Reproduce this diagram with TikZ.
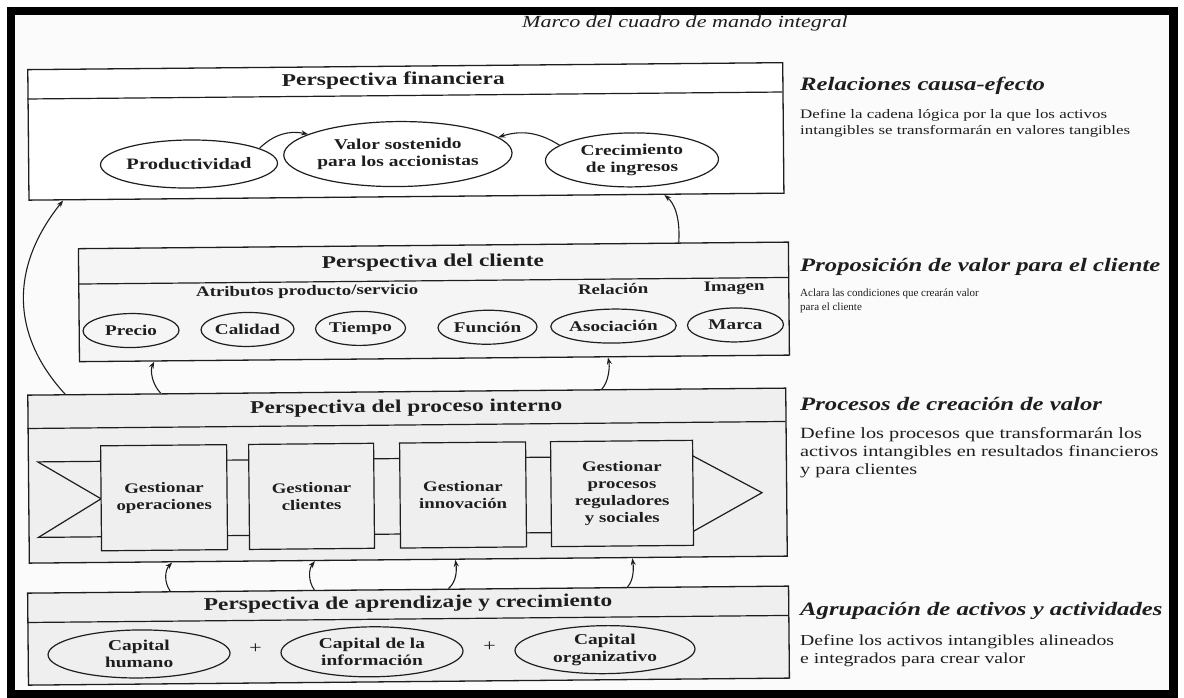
\documentclass[tikz,border=0pt]{standalone}
\usepackage{fontspec}
\setmainfont{Liberation Serif}[FakeStretch=1.3]
\newfontfamily\plainserif{Liberation Serif}
\usetikzlibrary{shapes.geometric,arrows.meta,calc}
\definecolor{ink}{HTML}{1E1E1E}
\definecolor{paper}{HTML}{FBFBFB}
\definecolor{shade}{HTML}{EFEFEF}
\definecolor{shadelt}{HTML}{F5F5F5}
\newcommand\fsz[2]{\fontsize{#1}{#2}\selectfont}

\begin{document}
\begin{tikzpicture}[x=1pt,y=-1pt,
  panel/.style={rectangle,draw=ink,line width=1.3pt,inner sep=0pt,anchor=north west},
  divider/.style={draw=ink,line width=1.2pt},
  hdr/.style={text=ink,font=\bfseries\fsz{18}{20}},
  sublab/.style={text=ink,font=\bfseries\fsz{14.5}{16}},
  oval/.style={ellipse,draw=ink,line width=1.2pt,inner sep=0pt,align=center,text=ink,font=\bfseries\fsz{15}{17}},
  proc/.style={rectangle,draw=ink,line width=1.2pt,fill=shade,inner sep=0pt,align=center,text=ink,font=\bfseries\fsz{14.5}{17}},
  link/.style={draw=ink,line width=1.1pt,-{Stealth[length=7pt,width=5pt]}},
  rhead/.style={anchor=base west,inner sep=0pt,text=ink,font=\bfseries\itshape\fsz{19}{22}},
  rtext/.style={anchor=base west,inner sep=0pt,text=ink},
]
% page, black frame and paper
\useasboundingbox (0,0) rectangle (1184,698);
\fill[white] (0,0) rectangle (1184,698);
\fill[black] (7,7) rectangle (1178,698);
\fill[paper] (15,15) rectangle (1169,690);

\node[font=\itshape\fsz{17}{20},text=ink] (title) at (685,23) {Marco del cuadro de mando integral};

% the four perspectives, slightly tilted as on the printed page
\begin{scope}[rotate around={0.53:(405,380)},transform shape]
  % panels
  \node[panel,fill=white,minimum width=755pt,minimum height=130.5pt] (b1) at (30,65.5) {};
  \node[panel,fill=shadelt,minimum width=710pt,minimum height=113pt] (b2) at (79,245) {};
  \node[panel,fill=shade,minimum width=758pt,minimum height=168pt] (b3) at (27,391) {};
  \node[panel,fill=shade,minimum width=761pt,minimum height=92pt] (b4) at (25,589) {};
  \draw[divider] (30,95.5) -- (785,95.5);
  \draw[divider] (79,281) -- (789,281);
  \draw[divider] (27,425) -- (785,425);
  \draw[divider] (25,619) -- (786,619);

  % headers
  \node[hdr] (h1) at (396,80.5) {Perspectiva financiera};
  \node[hdr] (h2) at (434,263) {Perspectiva del cliente};
  \node[hdr] (h3) at (406,408) {Perspectiva del proceso interno};
  \node[hdr] (h4) at (406,604) {Perspectiva de aprendizaje y crecimiento};

  % financial perspective
  \node[oval,minimum width=149pt,minimum height=48pt,font=\bfseries\fsz{15.8}{17}] (pro) at (191,162) {Productividad};
  \node[oval,minimum width=192pt,minimum height=65pt] (val) at (400,154) {Valor sostenido\\para los accionistas};
  \node[oval,minimum width=173pt,minimum height=54pt] (cre) at (634,162) {Crecimiento\\de ingresos};
  \draw[link] (pro.12) to[bend left=28] (val.167);
  \draw[link] (cre.168) to[bend right=25] (val.9);

  % customer perspective
  \node[sublab] (attr) at (308,291) {Atributos producto/servicio};
  \node[sublab] (rel) at (614,291) {Relación};
  \node[sublab] (img) at (735,291) {Imagen};
  \begin{scope}[every node/.append style={oval,minimum height=34pt,font=\bfseries\fsz{14.8}{16}}]
    \node[minimum width=96pt] (pre) at (131.5,328) {Precio};
    \node[minimum width=93pt] (cal) at (248,328) {Calidad};
    \node[minimum width=90pt] (tie) at (361,328) {Tiempo};
    \node[minimum width=99pt] (fun) at (488,328) {Función};
    \node[minimum width=110pt] (aso) at (614,328) {Asociación};
    \node[minimum width=96pt] (mar) at (736,328) {Marca};
  \end{scope}

  % internal process perspective: value chain
  \draw[divider,line join=miter] (100,458.5) -- (37,458.5) -- (100,496) -- (37,534) -- (100,534);
  \draw[divider] (226,458.5) -- (248,458.5) (226,534) -- (248,534);
  \draw[divider] (373,458.5) -- (399,458.5) (373,534) -- (399,534);
  \draw[divider] (525,458.5) -- (550,458.5) (525,534) -- (550,534);
  \draw[divider,line join=miter] (692,458.5) -- (761,496) -- (692,534);
  \node[proc,minimum width=126pt,minimum height=105pt] (pb1) at (163,495.5) {Gestionar\\operaciones};
  \node[proc,minimum width=125pt,minimum height=105pt] (pb2) at (310.5,495.5) {Gestionar\\clientes};
  \node[proc,minimum width=126pt,minimum height=105pt] (pb3) at (462,495.5) {Gestionar\\innovación};
  \node[proc,minimum width=142pt,minimum height=105pt] (pb4) at (621,495.5) {Gestionar\\procesos\\reguladores\\y sociales};

  % learning and growth perspective
  \node[oval,minimum width=182pt,minimum height=48pt] (cap1) at (136.5,651.5) {Capital\\humano};
  \node[oval,minimum width=182pt,minimum height=50pt] (cap2) at (369.5,651.5) {Capital de la\\información};
  \node[oval,minimum width=180pt,minimum height=48pt] (cap3) at (602.5,651.5) {Capital\\organizativo};
  \node[text=ink,font=\fsz{17}{17}] (plus1) at (253,647) {+};
  \node[text=ink,font=\fsz{17}{17}] (plus2) at (487,647) {+};

  % attachment points of the links between perspectives
  \coordinate (b3l) at ($(b3.north west)!0.050!(b3.north east)$);
  \coordinate (b1l) at ($(b1.south west)!0.046!(b1.south east)$);
  \coordinate (b2r) at ($(b2.north west)!0.845!(b2.north east)$);
  \coordinate (b1r) at ($(b1.south west)!0.841!(b1.south east)$);
  \coordinate (b3a) at ($(b3.north west)!0.176!(b3.north east)$);
  \coordinate (b2a) at ($(b2.south west)!0.106!(b2.south east)$);
  \coordinate (b3b) at ($(b3.north west)!0.757!(b3.north east)$);
  \coordinate (b2b) at ($(b2.south west)!0.744!(b2.south east)$);
  \coordinate (b4a) at ($(b4.north west)!0.188!(b4.north east)$);
  \coordinate (b4b) at ($(b4.north west)!0.377!(b4.north east)$);
  \coordinate (b4c) at ($(b4.north west)!0.553!(b4.north east)$);
  \coordinate (b4d) at ($(b4.north west)!0.788!(b4.north east)$);
  \coordinate (b3c) at ($(b3.south west)!0.189!(b3.south east)$);
  \coordinate (b3d) at ($(b3.south west)!0.377!(b3.south east)$);
  \coordinate (b3e) at ($(b3.south west)!0.562!(b3.south east)$);
  \coordinate (b3f) at ($(b3.south west)!0.795!(b3.south east)$);

  % links
  \draw[link] (b3l) .. controls (10,330) and (12,262) .. (b1l);
  \draw[link] (b2r) .. controls (682,218) and (675,205) .. (b1r);
  \draw[link] (b3a) .. controls (152,382) and (150,368) .. (b2a);
  \draw[link] (b3b) .. controls (609,383) and (610,368) .. (b2b);
  \draw[link] (b4a) .. controls (162,580) and (163,568) .. (b3c);
  \draw[link] (b4b) .. controls (306,580) and (307,568) .. (b3d);
  \draw[link] (b4c) .. controls (455,582) and (455,570) .. (b3e);
  \draw[link] (b4d) .. controls (632,582) and (632,570) .. (b3f);
\end{scope}

% right-hand column
\node[rhead] (r1h) at (800,91) {Relaciones causa-efecto};
\node[rtext,font=\fsz{13}{15}] (r1a) at (800,119) {Define la cadena lógica por la que los activos};
\node[rtext,font=\fsz{13}{15}] (r1b) at (800,134.5) {intangibles se transformarán en valores tangibles};

\node[rhead] (r2h) at (800,271) {Proposición de valor para el cliente};
\node[rtext,font=\plainserif\fsz{11}{13}] (r2a) at (800,296) {Aclara las condiciones que crearán valor};
\node[rtext,font=\plainserif\fsz{11}{13}] (r2b) at (800,310) {para el cliente};

\node[rhead] (r3h) at (800,410) {Procesos de creación de valor};
\node[rtext,font=\fsz{15.6}{18}] (r3a) at (800,438) {Define los procesos que transformarán los};
\node[rtext,font=\fsz{15.6}{18}] (r3b) at (800,456) {activos intangibles en resultados financieros};
\node[rtext,font=\fsz{15.6}{18}] (r3c) at (800,474) {y para clientes};

\node[rhead] (r4h) at (800,615) {Agrupación de activos y actividades};
\node[rtext,font=\fsz{15.2}{18}] (r4a) at (800,645.5) {Define los activos intangibles alineados};
\node[rtext,font=\fsz{15.2}{18}] (r4b) at (800,663.5) {e integrados para crear valor};

% frame edge drawn over any overhanging text
\fill[black] (1169,7) rectangle (1178,698);
\end{tikzpicture}
\end{document}
